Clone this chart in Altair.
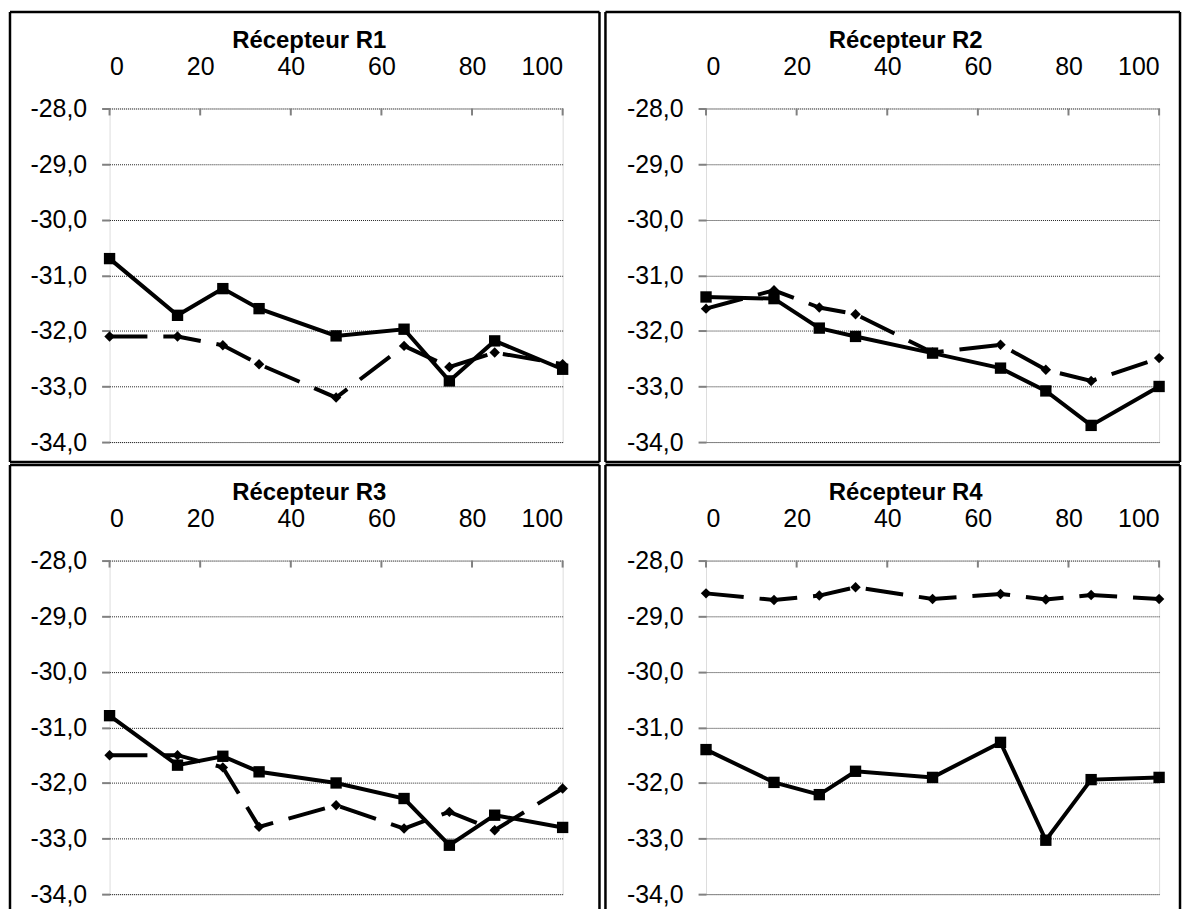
import altair as alt
import pandas as pd

# ---- data ----
x_pos = [0, 15, 25, 33, 50, 65, 75, 85, 100]
x_ticks = [0, 20, 40, 60, 80, 100]
y_ticks = [-34, -33, -32, -31, -30, -29, -28]
titles = ["Récepteur R1", "Récepteur R2", "Récepteur R3", "Récepteur R4"]

r1_solid = [-30.70, -31.72, -31.24, -31.60, -32.09, -31.97, -32.90, -32.18, -32.69]
r1_dashed = [-32.10, -32.10, -32.26, -32.60, -33.20, -32.27, -32.65, -32.39, -32.60]
r2_solid = [-31.39, -31.42, -31.95, -32.10, -32.40, -32.67, -33.08, -33.70, -33.00]
r2_dashed = [-31.60, -31.27, -31.58, -31.70, -32.39, -32.25, -32.70, -32.90, -32.49]
r3_solid = [-30.79, -31.68, -31.52, -31.80, -32.00, -32.28, -33.12, -32.58, -32.80]
r3_dashed = [-31.50, -31.50, -31.72, -32.79, -32.40, -32.82, -32.52, -32.85, -32.10]
r4_solid = [-31.40, -31.99, -32.21, -31.79, -31.90, -31.27, -33.03, -31.94, -31.90]
r4_dashed = [-28.59, -28.71, -28.63, -28.48, -28.69, -28.60, -28.70, -28.62, -28.69]

FONT = "Liberation Sans"
W, H = 455, 335


def panel(title, solid_vals, dashed_vals, frame):
    left, right, top, bottom, draw_bottom = frame
    xs = alt.Scale(domain=[0, 100], nice=False, zero=False)
    ys = alt.Scale(domain=[-34, -28], nice=False, zero=False)
    xax = alt.Axis(
        orient="top", values=x_ticks, title=title, ticks=False, tickSize=0,
        domain=False, grid=False, labelPadding=29, labelFontSize=25,
        labelColor="black", labelFont=FONT, titleFont=FONT, titleFontSize=24,
        titleFontWeight="bold", titleColor="black", titleX=200, titleY=-61,
        titleAlign="center", titleBaseline="alphabetic",
    )
    yax = alt.Axis(
        orient="left", values=y_ticks, title=None, domain=False,
        labelExpr="(datum.value < 0 ? '-' : '') + replace(format(abs(datum.value), '.1f'), '.', ',')",
        tickSize=8, tickColor="#808080", tickWidth=2, labelPadding=15,
        labelFontSize=25, labelColor="black", labelFont=FONT,
        grid=True, gridColor="#222222", gridDash=[1, 1], gridWidth=1,
    )
    X = alt.X("x:Q", scale=xs, axis=xax)
    Y = alt.Y("y:Q", scale=ys, axis=yax)

    df_s = pd.DataFrame({"x": x_pos, "y": solid_vals})
    df_d = pd.DataFrame({"x": x_pos, "y": dashed_vals})
    df_t = pd.DataFrame({"x": x_ticks})
    one = pd.DataFrame({"k": [0]})

    ticks_in = alt.Chart(df_t).mark_rule(color="#808080", strokeWidth=2).encode(
        x=X, y=alt.value(0), y2=alt.value(7))
    d_line = alt.Chart(df_d).mark_line(color="black", strokeWidth=4, strokeDash=[38, 16]).encode(x=X, y=Y)
    d_pts = alt.Chart(df_d).mark_point(shape="diamond", filled=True, size=110, color="black", opacity=1).encode(x=X, y=Y)
    s_line = alt.Chart(df_s).mark_line(color="black", strokeWidth=4).encode(x=X, y=Y)
    s_pts = alt.Chart(df_s).mark_point(shape="square", filled=True, size=130, color="black", opacity=1).encode(x=X, y=Y)

    fr = dict(color="black", strokeWidth=2.5)
    f_top = alt.Chart(one).mark_rule(**fr).encode(x=alt.value(left), x2=alt.value(right), y=alt.value(top))
    f_left = alt.Chart(one).mark_rule(**fr).encode(x=alt.value(left), y=alt.value(top), y2=alt.value(bottom))
    f_right = alt.Chart(one).mark_rule(**fr).encode(x=alt.value(right), y=alt.value(top), y2=alt.value(bottom))
    layers = [ticks_in, d_line, d_pts, s_line, s_pts, f_top, f_left, f_right]
    if draw_bottom:
        layers.append(alt.Chart(one).mark_rule(**fr).encode(x=alt.value(left), x2=alt.value(right), y=alt.value(bottom)))
    return alt.layer(*layers).properties(width=W, height=H)


p1 = panel(titles[0], r1_solid, r1_dashed, (-100, 492, -97, 355, True))
p2 = panel(titles[1], r2_solid, r2_dashed, (-101, 476, -97, 355, True))
p3 = panel(titles[2], r3_solid, r3_dashed, (-100, 492, -96, 350, False))
p4 = panel(titles[3], r4_solid, r4_dashed, (-101, 476, -96, 350, False))

chart = alt.concat(
    p1, p2, p3, p4, columns=2, spacing={"row": 119, "column": 144}, bounds="flush"
).properties(
    padding={"left": 0, "top": 0, "right": 0, "bottom": -4}
).configure_view(
    stroke="#808080", strokeWidth=2
).configure(
    font=FONT, background="white"
)

chart.save("out.html", embed_options={"renderer": "svg", "actions": False})
